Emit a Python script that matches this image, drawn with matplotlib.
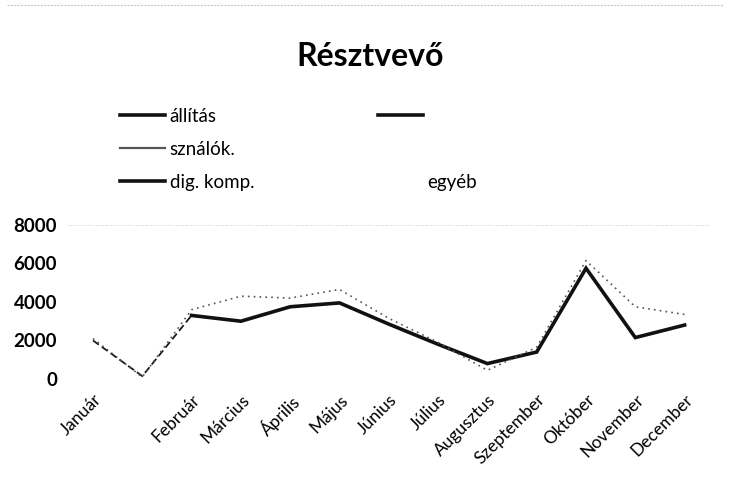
import matplotlib
matplotlib.use('Agg')
import matplotlib.pyplot as plt
from matplotlib.lines import Line2D
import numpy as np

plt.rcParams['font.family'] = ['Lato', 'DejaVu Sans']

# --- data ---
months = ['Január', '', 'Február', 'Március', 'Április', 'Május', 'Június',
          'Július', 'Augusztus', 'Szeptember', 'Október', 'November', 'December']
kiallitas = [2000, 150, 3300, 3000, 3750, 3950, 2850, 1800, 800, 1400, 5750, 2150, 2800]
felhasznalok = [2100, 100, 3600, 4300, 4200, 4650, 3150, 1900, 450, 1650, 6150, 3750, 3350]
legend_labels = ['állítás', 'sználók.', 'dig. komp.', '', '', 'egyéb']
y_ticks = [0, 2000, 4000, 6000, 8000]

x = np.arange(len(months))

fig = plt.figure(figsize=(7.3, 4.86), dpi=100)
ax = fig.add_axes([0.0936, 0.2202, 0.878, 0.317])

# first stretch came out broken/thin, rest is the heavy line
ax.plot(x[:3], kiallitas[:3], color='#1a1a1a', lw=1.3, ls=(0, (4, 2)))
ax.plot(x[2:], kiallitas[2:], color='#111111', lw=2.6, solid_joinstyle='miter')
ax.plot(x, felhasznalok, color='#555555', lw=1.2, ls=(0, (1, 2.5)))

ax.set_xlim(-0.5, len(months) - 0.5)
ax.set_ylim(0, 8000)
ax.set_yticks(y_ticks)
ax.set_yticklabels([str(v) for v in y_ticks], fontsize=13.5, fontweight='bold')
ax.set_xticks(x)
ax.set_xticklabels(months, rotation=45, ha='right', rotation_mode='anchor',
                   fontsize=12.5)
ax.tick_params(axis='both', length=0)
ax.tick_params(axis='y', pad=8)
ax.tick_params(axis='x', pad=9)
for s in ax.spines.values():
    s.set_visible(False)
ax.axhline(8000, color='#bbbbbb', lw=0.6, ls=(0, (1, 2)))

fig.text(0.507, 1 - 57 / 486, 'Résztvevő', ha='center', va='center',
         fontsize=23, fontweight='bold')

handles = [
    Line2D([], [], color='#111111', lw=2.6),
    Line2D([], [], color='#555555', lw=1.6),
    Line2D([], [], color='#111111', lw=2.6),
    Line2D([], [], color='#111111', lw=2.6),
    Line2D([], [], color='none'),
    Line2D([], [], color='none'),
]
fig.legend(handles, legend_labels, ncol=2, frameon=False, fontsize=13.5,
           loc='upper left', bbox_to_anchor=(120 / 730, 1 - 108 / 486),
           borderaxespad=0, borderpad=0, handlelength=2.4, handletextpad=0.25,
           labelspacing=0.85, columnspacing=6.6)

# faint frame edge along the top
fig.add_artist(Line2D([0.01, 0.99], [0.99, 0.99], color='#c8c8c8', lw=0.8,
                      ls=(0, (2, 1))))

fig.savefig('out.png', dpi=100, facecolor='white')
